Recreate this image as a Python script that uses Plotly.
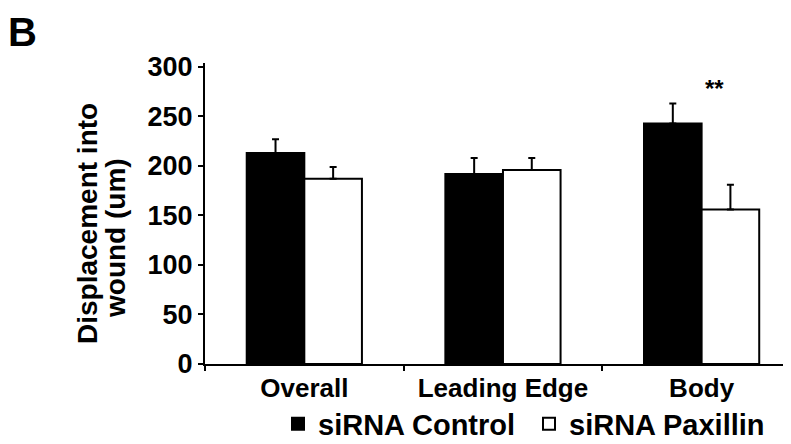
import plotly.graph_objects as go

categories = ["Overall", "Leading Edge", "Body"]
control_values = [213, 192, 243]
control_errors = [14, 16, 20]
paxillin_values = [187, 196, 156]
paxillin_errors = [12, 12, 25]
series_names = ["siRNA Control", "siRNA Paxillin"]
y_ticks = [0, 50, 100, 150, 200, 250, 300]

FONT = "Liberation Sans, Arial, sans-serif"
L, T, B_ = 197, 55, 80
W, H = 783, 436
PW = W - L          # plot width in px
PH = H - T - B_     # plot height in px

fig = go.Figure()
fig.add_trace(go.Bar(
    x=categories, y=control_values, name=series_names[0],
    marker=dict(color="black", line=dict(color="black", width=2)),
    error_y=dict(type="data", array=control_errors, arrayminus=[0, 0, 0],
                 symmetric=False, color="black", thickness=2, width=3.5),
))
fig.add_trace(go.Bar(
    x=categories, y=paxillin_values, name=series_names[1],
    marker=dict(color="white", line=dict(color="black", width=2)),
    error_y=dict(type="data", array=paxillin_errors, arrayminus=[0, 0, 0],
                 symmetric=False, color="black", thickness=2, width=3.5),
))

fig.update_layout(
    width=W, height=H,
    margin=dict(l=L, r=0, t=T, b=B_, autoexpand=False),
    paper_bgcolor="white", plot_bgcolor="white",
    font=dict(family=FONT, size=27, color="black"),
    barmode="group", bargap=0.42, bargroupgap=0,
    showlegend=True,
    legend=dict(orientation="h", x=(270 - L) / PW, xanchor="left",
                y=-(416 - (H - B_)) / PH, yanchor="middle",
                entrywidth=206, entrywidthmode="pixels",
                font=dict(family=FONT, size=29, color="black"),
                traceorder="normal", bgcolor="rgba(0,0,0,0)"),
    xaxis=dict(range=[-0.5, 2.45], showline=True, linecolor="black", linewidth=2,
               ticks="outside", tickson="boundaries", ticklen=5, tickcolor="black",
               tickwidth=2, showgrid=False, zeroline=False,
               tickvals=categories, ticktext=["<b>%s</b>" % c for c in categories],
               tickfont=dict(family=FONT, size=26, color="black")),
    yaxis=dict(range=[0, 304], tickvals=y_ticks,
               ticktext=["<b>%d</b>" % v for v in y_ticks],
               showline=True, linecolor="black",
               linewidth=2, ticks="outside", ticklen=5, tickcolor="black", tickwidth=2,
               showgrid=False, zeroline=False,
               tickfont=dict(family=FONT, size=27, color="black")),
    annotations=[
        dict(text="<b>B</b>", xref="paper", yref="paper", x=-L / PW, y=1 + T / PH,
             xanchor="left", yanchor="top", showarrow=False,
             xshift=-2, yshift=0, font=dict(family=FONT, size=40, color="black")),
        dict(text="<b>Displacement into</b>", xref="paper", yref="paper",
             x=-L / PW, y=1 - (216 - T) / PH, xshift=80, textangle=-90, showarrow=False,
             xanchor="center", yanchor="middle",
             font=dict(family=FONT, size=28, color="black")),
        dict(text="<b>wound (um)</b>", xref="paper", yref="paper",
             x=-L / PW, y=1 - (230 - T) / PH, xshift=107, textangle=-90, showarrow=False,
             xanchor="center", yanchor="middle",
             font=dict(family=FONT, size=28, color="black")),
        dict(text="<b>**</b>", x="Body", y=278, xref="x", yref="y", showarrow=False,
             xshift=13, font=dict(family=FONT, size=24, color="black")),
    ],
)
fig.for_each_trace(lambda t: t.update(name="<b>%s</b>" % t.name))

fig.write_html("out.html")
